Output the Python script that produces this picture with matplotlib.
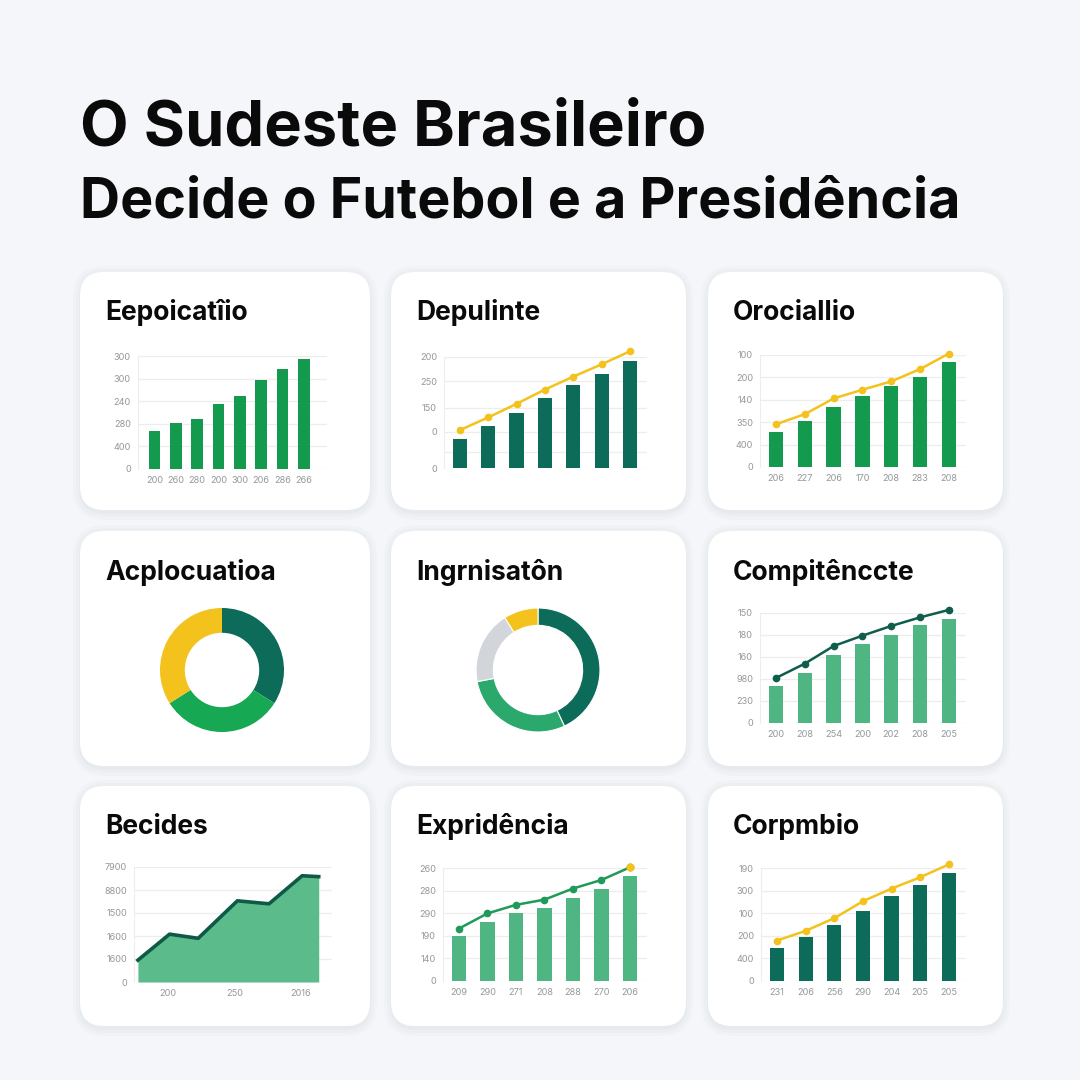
import matplotlib
matplotlib.use('Agg')
import matplotlib.pyplot as plt
from matplotlib.patches import FancyBboxPatch

W = H = 1080
BG = '#f4f6f9'
TEAL = '#0d6b59'
GREEN = '#149a4e'
MINT = '#4fb583'
YELLOW = '#f3c21c'
GRAY = '#d2d5d9'
TICK = '#959899'
GRID = '#ededed'

plt.rcParams['font.family'] = ['Inter', 'DejaVu Sans']

title_1 = 'O Sudeste Brasileiro'
title_2 = 'Decide o Futebol e a Presidência'

card_titles = ['Eepoicatîio', 'Depulinte', 'Orociallio',
               'Acplocuatioa', 'Ingrnisatôn', 'Compitênccte',
               'Becides', 'Expridência', 'Corpmbio']

# panel 1: bars
p1_bars = [1.70, 2.02, 2.23, 2.89, 3.24, 3.95, 4.41, 4.88]
p1_x = ['200', '260', '280', '200', '300', '206', '286', '266']
p1_y = ['0', '400', '280', '240', '300', '300']

# panel 2: bars + line
p2_bars = [1.31, 1.88, 2.45, 3.16, 3.72, 4.23, 4.79]
p2_line = [1.70, 2.27, 2.88, 3.52, 4.10, 4.65, 5.24]
p2_yticks = [0, 0.7, 1.63, 2.71, 3.89, 4.98]
p2_y = ['0', '', '0', '150', '250', '200']

# panel 3: bars + line
p3_bars = [1.58, 2.06, 2.70, 3.15, 3.63, 4.03, 4.69]
p3_line = [1.91, 2.36, 3.06, 3.45, 3.82, 4.37, 5.06]
p3_x = ['206', '227', '206', '170', '208', '283', '208']
p3_y = ['0', '400', '350', '140', '200', '100']

# panel 4 and 5: donuts
p4_share = [34, 32, 34]
p4_colors = [TEAL, '#16a852', YELLOW]
p5_share = [43, 29, 19, 9]
p5_colors = [TEAL, '#2ba86c', GRAY, YELLOW]

# panel 6: bars + line
p6_bars = [1.68, 2.29, 3.11, 3.59, 3.98, 4.45, 4.74]
p6_line = [2.05, 2.70, 3.50, 3.97, 4.41, 4.80, 5.14]
p6_x = ['200', '208', '254', '200', '202', '208', '205']
p6_y = ['0', '230', '980', '160', '180', '150']

# panel 7: area
p7_xpos = [0, 1.05, 2.0, 3.3, 4.35, 5.45, 6.0]
p7_vals = [0.95, 2.08, 1.90, 3.53, 3.40, 4.62, 4.58]
p7_xticks = [1.0, 3.2, 5.4]
p7_x = ['200', '250', '2016']
p7_y = ['0', '1600', '1600', '1500', '8800', '7900']

# panel 8: bars + line
p8_bars = [1.97, 2.60, 3.00, 3.24, 3.69, 4.09, 4.65]
p8_line = [2.32, 2.99, 3.37, 3.60, 4.09, 4.47, 5.03]
p8_x = ['209', '290', '271', '208', '288', '270', '206']
p8_y = ['0', '140', '190', '290', '280', '260']

# panel 9: bars + line
p9_bars = [1.46, 1.93, 2.46, 3.10, 3.74, 4.25, 4.79]
p9_line = [1.79, 2.22, 2.78, 3.53, 4.09, 4.59, 5.16]
p9_x = ['231', '206', '256', '290', '204', '205', '205']
p9_y = ['0', '400', '200', '100', '300', '190']

cols = [(80, 370), (391, 686), (708, 1003)]
rows = [(272, 510), (531, 766), (786, 1026)]


def rect(x0, y0, x1, y1):
    return [x0 / W, 1 - y1 / H, (x1 - x0) / W, (y1 - y0) / H]


def style(ax, ylabels, yticks=None):
    if yticks is None:
        yticks = range(len(ylabels))
    ax.set_ylim(0, yticks[-1])
    ax.set_yticks(yticks)
    ax.set_yticklabels(ylabels)
    ax.set_facecolor('none')
    for s in ['top', 'right', 'bottom']:
        ax.spines[s].set_visible(False)
    ax.spines['left'].set_color(GRID)
    ax.grid(axis='y', color=GRID, lw=0.9)
    ax.set_axisbelow(True)
    ax.tick_params(length=0, labelsize=6.6, labelcolor=TICK, pad=5)


def bars(ax, vals, color, xlabels, ylabels, yticks=None, width=0.5,
         line=None, lcolor=None, last=None, right=0.6):
    x = range(len(vals))
    ax.bar(x, vals, width=width, color=color, zorder=2)
    if line is not None:
        ax.plot(x, line, color=lcolor, lw=1.8, marker='o', ms=4.5,
                zorder=3, clip_on=False)
        if last:
            ax.plot([len(line) - 1], [line[-1]], 'o', color=last, ms=5,
                    zorder=4, clip_on=False)
    ax.set_xlim(-0.56, len(vals) - 1 + right)
    ax.set_xticks(list(x))
    ax.set_xticklabels(xlabels if xlabels else [])
    style(ax, ylabels, yticks)


def add_ax(r):
    a = fig.add_axes(r)
    a.set_zorder(5)
    return a


def donut(ax, share, colors, width, ec='none'):
    ax.pie(share, colors=colors, startangle=90, counterclock=False,
           radius=1, wedgeprops=dict(width=width, edgecolor=ec,
                                     linewidth=0.8))
    ax.set_xlim(-1, 1)
    ax.set_ylim(-1, 1)
    ax.set_aspect('equal')


fig = plt.figure(figsize=(10.8, 10.8), dpi=100, facecolor=BG)

fig.text(80 / W, 1 - 145 / H, title_1, fontsize=45.5, fontweight='bold',
         color='#0a0a0a', va='baseline')
fig.text(80 / W, 1 - 217 / H, title_2, fontsize=40, fontweight='bold',
         color='#0a0a0a', va='baseline')

for i, (y0, y1) in enumerate(rows):
    for j, (x0, x1) in enumerate(cols):
        for k, a in enumerate([0.05, 0.04, 0.03]):
            d = 2 + 3 * k
            sh = FancyBboxPatch(((x0 - d + 1) / W, 1 - (y1 + d + 2) / H),
                                (x1 - x0 + 2 * d - 2) / W,
                                (y1 - y0 + 2 * d) / H,
                                boxstyle='round,pad=0,rounding_size=%f' % ((24 + d) / W),
                                transform=fig.transFigure, fc='#8a96a8',
                                ec='none', alpha=a, zorder=-2)
            fig.patches.append(sh)
        card = FancyBboxPatch((x0 / W, 1 - y1 / H), (x1 - x0) / W,
                              (y1 - y0) / H,
                              boxstyle='round,pad=0,rounding_size=%f' % (24 / W),
                              transform=fig.transFigure, fc='white',
                              ec='none', zorder=-1)
        fig.patches.append(card)
        fig.text((x0 + 25) / W, 1 - (y0 + 41) / H, card_titles[3 * i + j],
                 fontsize=19, fontweight='bold', color='#0a0a0a',
                 va='center')

ax = add_ax(rect(138, 356, 327, 469))
bars(ax, p1_bars, GREEN, p1_x, p1_y, width=0.55, right=1.08)
ax.set_xlim(-0.77, 8.08)

ax = add_ax(rect(444, 357, 647, 468))
bars(ax, p2_bars, TEAL, None, p2_y, yticks=p2_yticks, line=p2_line,
     lcolor=YELLOW)

ax = add_ax(rect(760, 355, 966, 467))
bars(ax, p3_bars, GREEN, p3_x, p3_y, line=p3_line, lcolor=YELLOW)

ax = add_ax(rect(160, 608, 284, 732))
donut(ax, p4_share, p4_colors, 0.4)

ax = add_ax(rect(476, 608, 600, 732))
donut(ax, p5_share, p5_colors, 0.28, ec='white')

ax = add_ax(rect(760, 613, 966, 723))
bars(ax, p6_bars, MINT, p6_x, p6_y, line=p6_line, lcolor='#0f5d4b')

ax = add_ax(rect(134, 867, 332, 982))
ax.fill_between(p7_xpos, p7_vals, color='#5bbb8b', lw=0, zorder=2)
ax.plot(p7_xpos, p7_vals, color='#0e5a46', lw=2.6, zorder=3,
        solid_joinstyle='round')
ax.set_xlim(-0.13, 6.44)
ax.set_xticks(p7_xticks)
ax.set_xticklabels(p7_x)
style(ax, p7_y)

ax = add_ax(rect(443, 868, 647, 981))
bars(ax, p8_bars, MINT, p8_x, p8_y, line=p8_line, lcolor='#1f9a5a',
     last=YELLOW)

ax = add_ax(rect(761, 868, 966, 981))
bars(ax, p9_bars, TEAL, p9_x, p9_y, line=p9_line, lcolor=YELLOW)

fig.savefig('out.png', dpi=100, facecolor=BG)
